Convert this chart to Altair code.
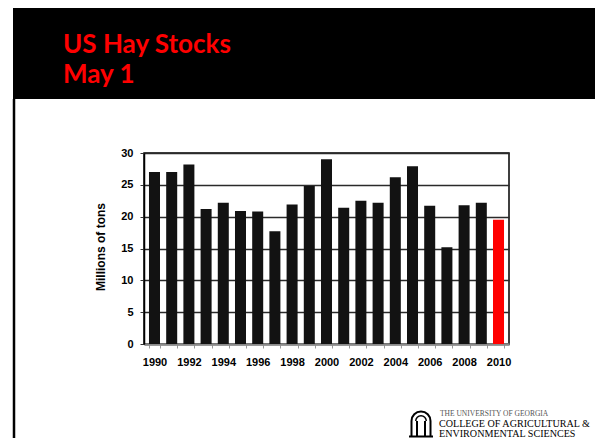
import altair as alt
import pandas as pd

years = list(range(1990, 2011))
stocks = [27.0, 27.0, 28.2, 21.2, 22.2, 20.9, 20.8, 17.7, 21.9, 24.8, 29.0,
          21.4, 22.5, 22.2, 26.2, 27.9, 21.7, 15.2, 21.8, 22.2, 19.5]
highlight = ["past"] * 20 + ["current"]
y_ticks = [0, 5, 10, 15, 20, 25, 30]

title_lines = ["US Hay Stocks", "May 1"]
y_title = "Millions of tons"
logo_lines = ["THE UNIVERSITY OF GEORGIA", "COLLEGE OF AGRICULTURAL &", "ENVIRONMENTAL SCIENCES"]

df = pd.DataFrame({"year": years, "stocks": stocks, "kind": highlight})

# plot area origin in page coordinates: (144, 153)
OX, OY = 144, 153
W, H = 365, 191
CW, CH = 587, 430

one = alt.Data(values=[{}])

bars = alt.Chart(df).mark_bar().encode(
    x=alt.X("year:O",
            scale=alt.Scale(paddingInner=0.36, paddingOuter=0.29),
            axis=alt.Axis(title=None, labelAngle=0,
                          labelExpr="datum.value % 2 == 0 ? datum.label : ''",
                          tickBand="extent", tickSize=4, tickColor="#999",
                          tickWidth=1, labelPadding=8,
                          domainColor="#8a8a8a", domainWidth=2.5,
                          labelFont="Liberation Sans", labelFontSize=11,
                          labelFontWeight="bold", labelColor="black")),
    y=alt.Y("stocks:Q",
            scale=alt.Scale(domain=[0, 30], nice=False),
            axis=alt.Axis(title=None, values=y_ticks, grid=True,
                          gridColor="#2a2a2a", gridWidth=1.3,
                          tickSize=4, tickColor="#333", labelPadding=7,
                          domainColor="black", domainWidth=1.5,
                          labelFont="Liberation Sans", labelFontSize=11,
                          labelFontWeight="bold", labelColor="black")),
    color=alt.Color("kind:N", scale=alt.Scale(domain=["past", "current"],
                                              range=["#121212", "#ff0000"]),
                    legend=None),
)

band = alt.Chart(one).mark_rect(color="black").encode(
    x=alt.value(13 - OX), x2=alt.value(603 - OX),
    y=alt.value(0 - OY), y2=alt.value(99 - OY))

left_border = alt.Chart(one).mark_rule(color="black", strokeWidth=2.5).encode(
    x=alt.value(14 - OX), y=alt.value(99 - OY), y2=alt.value(446 - OY))

t1 = alt.Chart(one).mark_text(text=title_lines[0], font="Lato", fontWeight="bold",
                              fontSize=26, color="#ff0000", align="left",
                              baseline="alphabetic").encode(
    x=alt.value(63 - OX), y=alt.value(53 - OY))
t2 = alt.Chart(one).mark_text(text=title_lines[1], font="Lato", fontWeight="bold",
                              fontSize=26, color="#ff0000", align="left",
                              baseline="alphabetic").encode(
    x=alt.value(63 - OX), y=alt.value(83 - OY))

ytitle = alt.Chart(one).mark_text(text=y_title, font="Liberation Sans",
                                  fontWeight="bold", fontSize=12, color="black",
                                  angle=270, align="center", baseline="middle").encode(
    x=alt.value(101 - OX), y=alt.value(247 - OY))

# logo (decoration)
arch = alt.Chart(one).mark_arc(color="black", outerRadius=10.5, innerRadius=8.5,
                               theta=4.712, theta2=7.854).encode(
    x=alt.value(421 - OX), y=alt.value(421 - OY))
arch_in = alt.Chart(one).mark_arc(color="black", outerRadius=6, innerRadius=4.5,
                                  theta=4.712, theta2=7.854).encode(
    x=alt.value(421 - OX), y=alt.value(421 - OY))
pillar_x = [411.5 - OX, 417 - OX, 425 - OX, 430.5 - OX]
pillars = alt.Chart(pd.DataFrame({"px": pillar_x})).mark_rule(
    color="black", strokeWidth=2).encode(
    x=alt.X("px:Q", scale=None), y=alt.value(421 - OY), y2=alt.value(437 - OY))
base = alt.Chart(one).mark_rule(color="black", strokeWidth=2).encode(
    x=alt.value(409 - OX), x2=alt.value(433 - OX), y=alt.value(436.5 - OY))
l1 = alt.Chart(one).mark_text(text=logo_lines[0], font="Liberation Serif", fontSize=7.5,
                              color="#555", align="left", baseline="middle").encode(
    x=alt.value(440 - OX), y=alt.value(414 - OY))
l2 = alt.Chart(one).mark_text(text=logo_lines[1], font="Liberation Serif", fontSize=10.1,
                              color="black", align="left", baseline="middle").encode(
    x=alt.value(439 - OX), y=alt.value(424 - OY))
l3 = alt.Chart(one).mark_text(text=logo_lines[2], font="Liberation Serif", fontSize=10.1,
                              color="black", align="left", baseline="middle").encode(
    x=alt.value(439 - OX), y=alt.value(433.5 - OY))

chart = alt.layer(band, left_border, t1, t2, bars, ytitle,
                  arch, arch_in, pillars, base, l1, l2, l3).properties(
    width=W, height=H,
    autosize=alt.AutoSizeParams(type="none"),
    padding={"left": OX - 8, "top": OY - 8, "right": CW - (OX - 8) - W,
             "bottom": CH - (OY - 8) - H},
    background="white",
).configure_view(stroke="black", strokeWidth=1.5)

chart.save("out.html", embed_options={"renderer": "svg", "actions": False})
